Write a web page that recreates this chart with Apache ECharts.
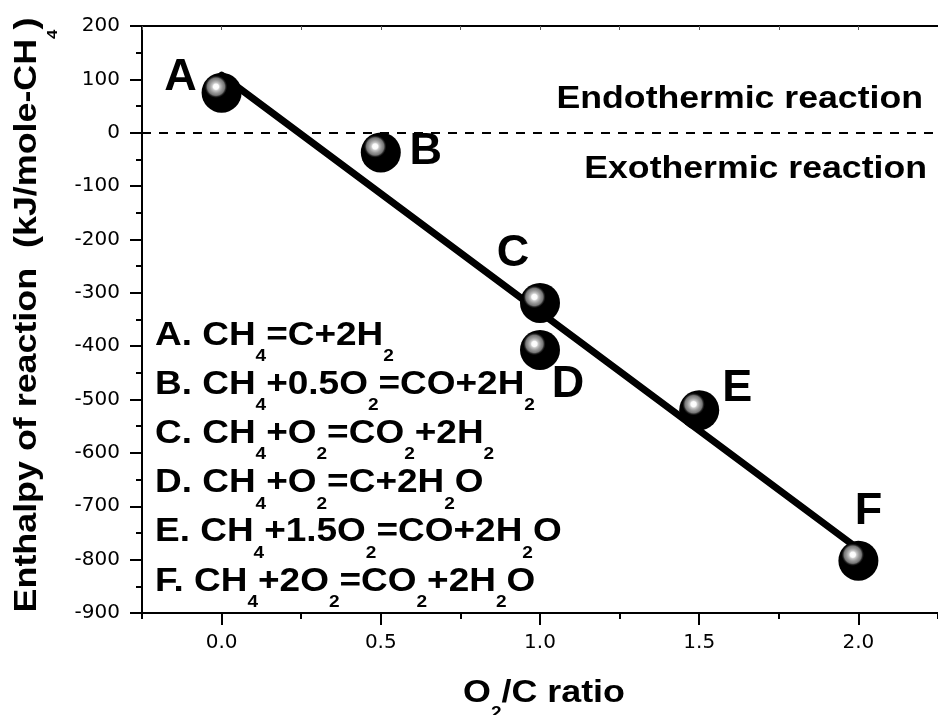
<!DOCTYPE html>
<html>
<head>
<meta charset="utf-8">
<title>Enthalpy of reaction vs O2/C ratio</title>
<script src="https://cdn.jsdelivr.net/npm/echarts@6/dist/echarts.min.js"></script>
<style>
  * { margin: 0; padding: 0 }
  html, body { width: 100%; height: 100%; background: #fff; }
  #chart { width: 938px; height: 715px; }
</style>
</head>
<body>
<div id="chart"></div>
<script>
  // data
  const pointNames = ['A', 'B', 'C', 'D', 'E', 'F'];
  const o2cRatio = [0, 0.5, 1.0, 1.0, 1.5, 2.0];
  const enthalpy = [75, -37, -319, -407, -520, -802];
  // straight fitted line, end points
  const fitRatio = [0, 2.0];
  const fitEnthalpy = [108, -780];
  // axis ticks
  const xMajorTicks = [0, 0.5, 1.0, 1.5, 2.0];
  const xMinorTicks = [-0.25, 0.25, 0.75, 1.25, 1.75, 2.25];
  const xTopTicks = [-0.25, 0, 0.25, 0.5, 0.75, 1.0, 1.25, 1.5, 1.75, 2.0, 2.25];
  const equations = [
    'A. CH_4=C+2H_2',
    'B. CH_4+0.5O_2=CO+2H_2',
    'C. CH_4+O_2=CO_2+2H_2',
    'D. CH_4+O_2=C+2H_2O',
    'E. CH_4+1.5O_2=CO+2H_2O',
    'F. CH_4+2O_2=CO_2+2H_2O'
  ];

  // where each letter sits relative to its ball (px)
  const labelOffsets = [[-41, -15], [45, -1], [-27, -49], [28, 35], [38, -22], [10, -49]];

  const BOLD = 'Liberation Sans';
  const MID = 0.3465; // canvas 'middle' sits this far (em) above the baseline

  const ctx = document.createElement('canvas').getContext('2d');
  const measure = (t, size) => {
    ctx.font = 'bold ' + size + 'px "' + BOLD + '"';
    return ctx.measureText(t).width;
  };

  // "CH_4" -> pieces of text; subscripts dropped below the baseline (y = 0)
  function formula(str, size, subSize, subBase) {
    const parts = str.split(/_(\d)/);
    const children = [];
    let x = 0;
    parts.forEach((t, k) => {
      if (!t) return;
      const sub = k % 2 === 1;
      const fs = sub ? subSize : size;
      children.push({
        type: 'text', x: x, y: (sub ? subBase : 0) - MID * fs,
        style: { text: t, fontFamily: BOLD, fontWeight: 'bold', fontSize: fs, fill: '#000', align: 'left', verticalAlign: 'middle' }
      });
      x += measure(t, fs);
    });
    return { children, width: x };
  }

  const ball = new echarts.graphic.RadialGradient(0.36, 0.35, 0.3, [
    { offset: 0, color: '#ffffff' },
    { offset: 0.22, color: '#fafafa' },
    { offset: 0.33, color: '#c6c6c6' },
    { offset: 0.52, color: '#9a9a9a' },
    { offset: 0.72, color: '#767676' },
    { offset: 0.83, color: '#242424' },
    { offset: 0.93, color: '#000000' },
    { offset: 1, color: '#000000' }
  ]);

  const points = o2cRatio.map((x, i) => ({
    value: [x, enthalpy[i]],
    name: pointNames[i],
    label: { offset: labelOffsets[i] }
  }));

  const graphics = equations.map((eq, i) => ({
    type: 'group',
    x: 155,
    y: 347 + i * 49.2,
    scaleX: 1.12,
    z: 10,
    children: formula(eq, 33, 17, 15.2).children
  }));

  const xTitle = formula('O_2/C ratio', 32, 17, 15);
  const yTitle = formula('Enthalpy of reaction  (kJ/mole-CH_4)', 32, 15, 20);
  xTitle.children.forEach(c => { c.x -= xTitle.width / 2; });
  yTitle.children.forEach(c => { c.x -= yTitle.width / 2; });

  graphics.push(
    {
      type: 'text', x: 923, y: 99, scaleX: 1.15, z: 10,
      style: { text: 'Endothermic reaction', fontFamily: BOLD, fontWeight: 'bold', fontSize: 31, fill: '#000', align: 'right', verticalAlign: 'middle' }
    },
    {
      type: 'text', x: 927, y: 169, scaleX: 1.15, z: 10,
      style: { text: 'Exothermic reaction', fontFamily: BOLD, fontWeight: 'bold', fontSize: 31, fill: '#000', align: 'right', verticalAlign: 'middle' }
    },
    { type: 'group', x: 544, y: 704, scaleX: 1.12, z: 10, children: xTitle.children },
    { type: 'group', x: 38, y: 315, rotation: Math.PI / 2, scaleX: 1.12, z: 10, children: yTitle.children }
  );

  const axisLine = { show: true, onZero: false, lineStyle: { color: '#000', width: 2 } };
  const tickLabel = { color: '#000', fontFamily: 'DejaVu Sans', fontSize: 20 };

  const chart = echarts.init(document.getElementById('chart'), null, { renderer: 'canvas' });
  chart.setOption({
    animation: false,
    backgroundColor: '#fff',
    grid: { left: 142, top: 26, right: -10, bottom: 102 },
    xAxis: [
      {
        type: 'value', min: -0.25, max: 2.25, position: 'bottom',
        axisLine: axisLine,
        axisTick: { show: true, length: 12, lineStyle: { color: '#000', width: 2 }, customValues: xMajorTicks },
        axisLabel: Object.assign({ margin: 20, customValues: xMajorTicks, formatter: v => v.toFixed(1) }, tickLabel),
        splitLine: { show: false }
      },
      {
        type: 'value', min: -0.25, max: 2.25, position: 'bottom',
        axisLine: { show: false, onZero: false },
        axisTick: { show: true, length: 6, lineStyle: { color: '#000', width: 2 }, customValues: xMinorTicks },
        axisLabel: { show: false },
        splitLine: { show: false }
      },
      {
        type: 'value', min: -0.25, max: 2.25, position: 'top',
        axisLine: axisLine,
        axisTick: { show: true, inside: true, length: 4, lineStyle: { color: '#555', width: 1 }, customValues: xTopTicks },
        axisLabel: { show: false },
        splitLine: { show: false }
      }
    ],
    yAxis: {
      type: 'value', min: -900, max: 200, interval: 100,
      axisLine: axisLine,
      axisTick: { show: true, length: 12, lineStyle: { color: '#000', width: 2 } },
      minorTick: { show: true, splitNumber: 2, length: 6, lineStyle: { color: '#000', width: 2 } },
      axisLabel: Object.assign({ margin: 22 }, tickLabel),
      splitLine: { show: false },
      minorSplitLine: { show: false }
    },
    graphic: graphics,
    series: [
      {
        type: 'line',
        data: fitRatio.map((x, i) => [x, fitEnthalpy[i]]),
        showSymbol: false,
        symbol: 'none',
        z: 2,
        lineStyle: { color: '#000', width: 7, cap: 'round' },
        markLine: {
          silent: true,
          symbol: 'none',
          label: { show: false },
          lineStyle: { color: '#000', width: 2, type: [9, 8] },
          data: [{ yAxis: 0 }]
        }
      },
      {
        type: 'scatter',
        data: points,
        symbol: 'circle',
        symbolSize: 40,
        z: 5,
        itemStyle: { color: ball, opacity: 1 },
        label: {
          show: true,
          position: 'inside',
          formatter: p => p.name,
          color: '#000',
          fontFamily: BOLD,
          fontWeight: 'bold',
          fontSize: 45
        }
      }
    ]
  });
</script>
</body>
</html>
